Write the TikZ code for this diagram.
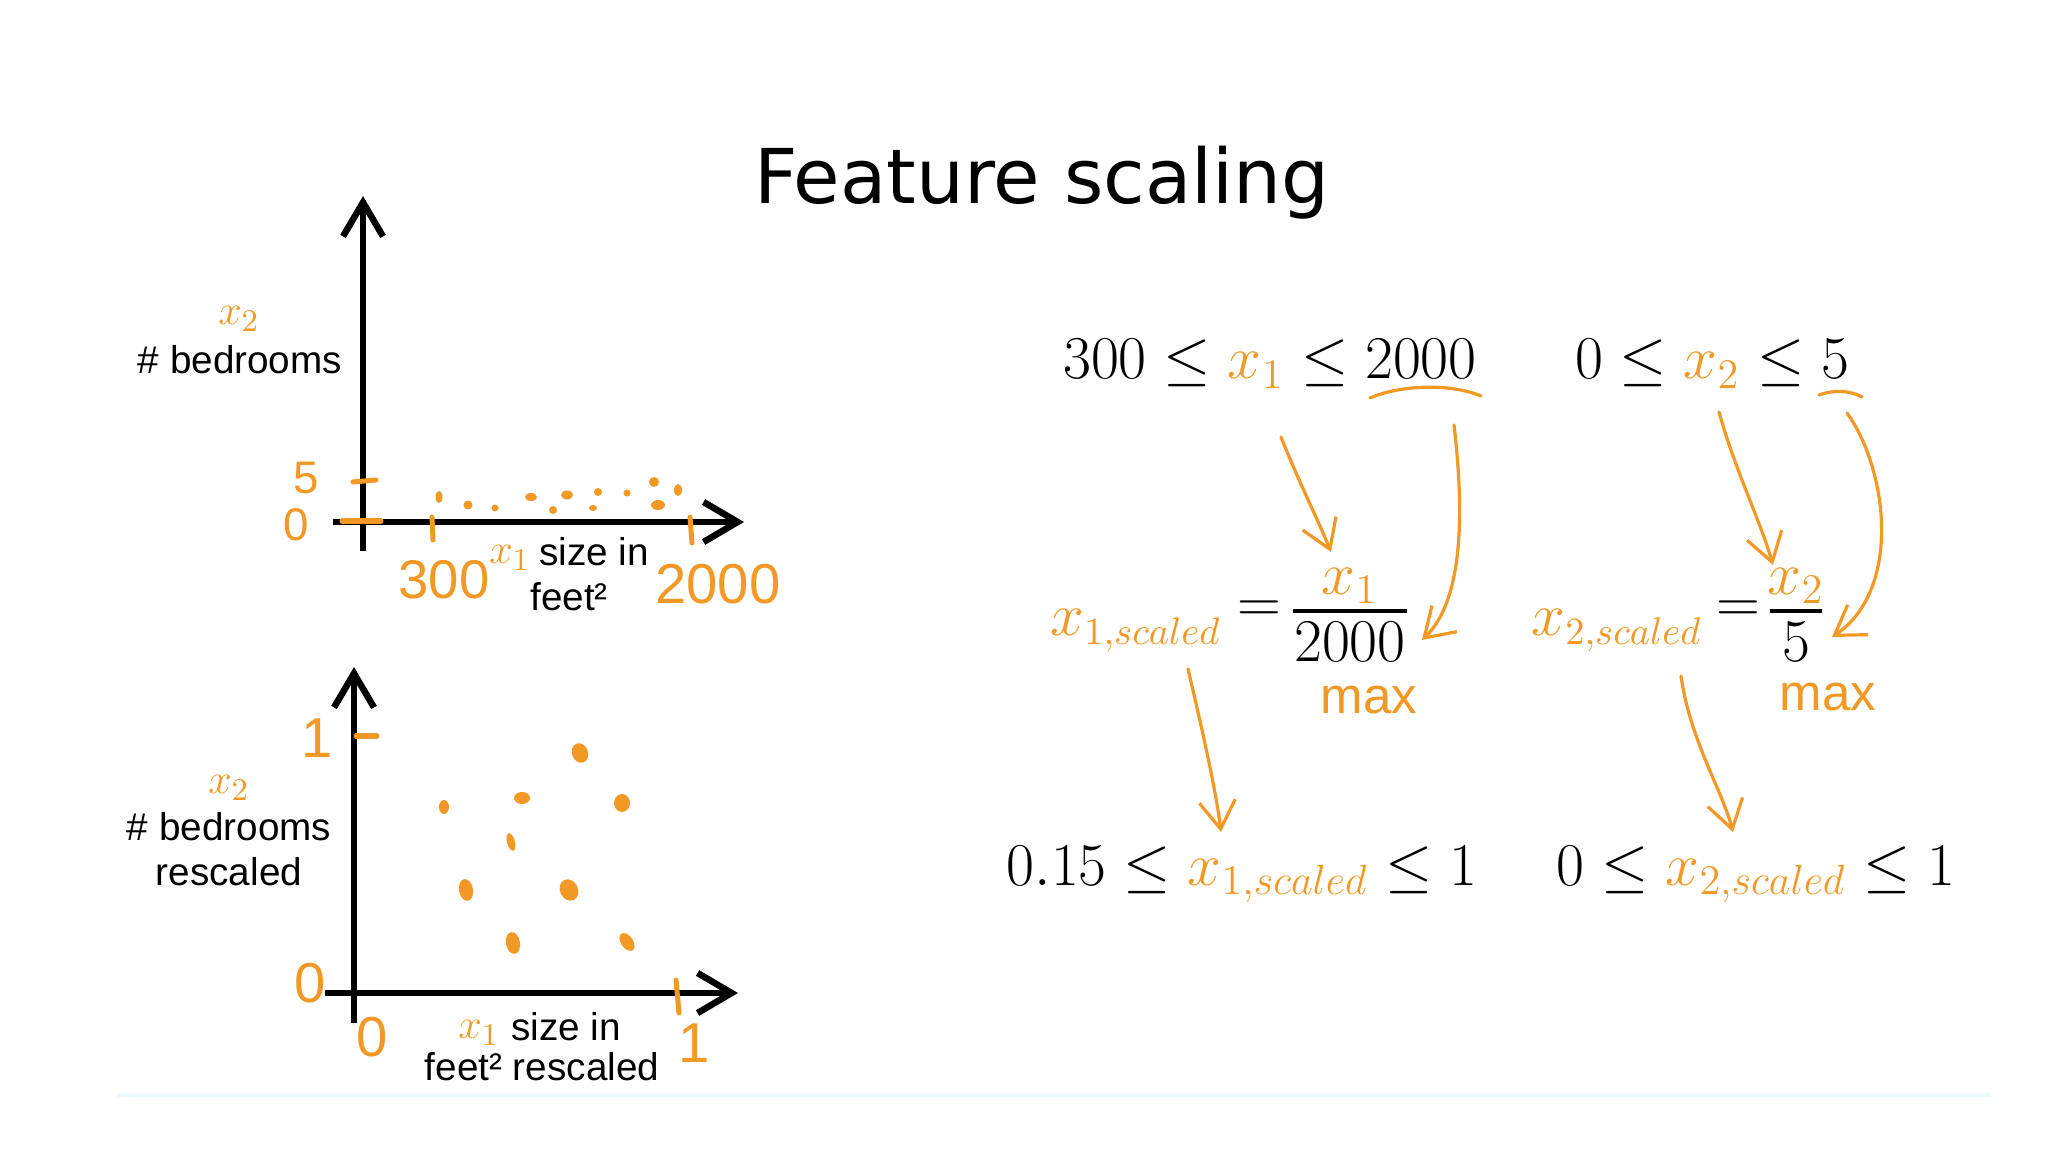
\documentclass[tikz,border=0pt]{standalone}
\usepackage{fontspec}
\usepackage{amsmath}
\setmainfont{Liberation Sans}
\newfontfamily\titlefont{DejaVu Sans}
\usetikzlibrary{arrows.meta}
\definecolor{orng}{RGB}{242,153,37}
\definecolor{faint}{RGB}{236,248,251}
\tikzset{
  axisline/.style={line width=0.065cm, -{Straight Barb[length=0.34cm,width=0.4cm]}},
  pen/.style={orng, line width=0.032cm, line cap=round},
  penarrow/.style={pen, -{Straight Barb[length=0.28cm,width=0.36cm]}},
  tickmark/.style={orng, line width=0.05cm, line cap=round},
  fracbar/.style={line width=0.035cm},
  lbl/.style={font=\fontsize{11}{13}\selectfont, inner sep=0},
  hand/.style={orng, font=\fontsize{16}{16}\selectfont, inner sep=0},
  handmax/.style={orng, font=\fontsize{14.5}{15}\selectfont, inner sep=0},
  handsm/.style={orng, font=\fontsize{13}{13}\selectfont, inner sep=0},
  mvar/.style={orng, font=\fontsize{13}{13}\selectfont, inner sep=0},
  mth/.style={font=\fontsize{17}{20}\selectfont, inner sep=0},
  mths/.style={font=\fontsize{16.3}{20}\selectfont, inner sep=0},
  dotmark/.style={fill=orng, draw=none},
}
\begin{document}
\begin{tikzpicture}[x=0.01cm,y=-0.01cm]
\useasboundingbox (0,0) rectangle (2048,1152);
\fill[white] (0,0) rectangle (2048,1152);

% title
\node[font=\titlefont\fontsize{21.5}{24}\selectfont, inner sep=0] (title) at (1042,183) {Feature scaling};

% faint bottom line
\coordinate (fl) at (117,1095);
\coordinate (fr) at (1991,1095);
\draw[faint, line width=0.04cm] (fl) -- (fr);

% ---------- top graph ----------
\coordinate (ybot1) at (363,551);
\coordinate (ytop1) at (363,196);
\coordinate (xl1) at (333,522);
\coordinate (xr1) at (744,522);
\draw[axisline] (ybot1) -- (ytop1);
\draw[axisline] (xl1) -- (xr1);

\coordinate (t5a) at (353,482); \coordinate (t5b) at (376,480);
\coordinate (t0a) at (342,521); \coordinate (t0b) at (381,521);
\coordinate (t3a) at (432,517); \coordinate (t3b) at (433,540);
\coordinate (t2a) at (690,517); \coordinate (t2b) at (692,543);
\draw[tickmark] (t5a) -- (t5b);
\draw[tickmark] (t0a) -- (t0b);
\draw[tickmark] (t3a) -- (t3b);
\draw[tickmark] (t2a) -- (t2b);

\node[handsm] (l5) at (306,478) {5};
\node[handsm] (l0) at (296,525) {0};
\node[hand, font=\fontsize{15.5}{16}\selectfont] (l300) at (444,580) {300};
\node[hand] (l2000) at (718,584) {2000};
\node[mvar] (vx2a) at (239,319) {$x_2$};
\node[lbl] (bed1) at (240,360) {\# bedrooms};
\node[mvar] (vx1a) at (510,558) {$x_1$};
\node[lbl] (size1) at (594,552) {size in};
\node[lbl] (feet1) at (569,597) {feet²};

% top scatter dots
\fill[dotmark] (439,497) ellipse [x radius=3.5, y radius=6];
\fill[dotmark] (468,505) circle [radius=4.5];
\fill[dotmark] (495,508) circle [radius=3.5];
\fill[dotmark] (531,497) ellipse [x radius=6, y radius=4];
\fill[dotmark] (553,510) circle [radius=4];
\fill[dotmark] (567,495) ellipse [x radius=6, y radius=4.5];
\fill[dotmark] (593,508) ellipse [x radius=4, y radius=3];
\fill[dotmark] (598,492) circle [radius=4];
\fill[dotmark] (627,493) circle [radius=3.5];
\fill[dotmark] (654,482) circle [radius=5];
\fill[dotmark] (658,505) ellipse [x radius=7, y radius=5];
\fill[dotmark] (678,490) ellipse [x radius=4, y radius=6];

% ---------- bottom graph ----------
\coordinate (ybot2) at (354,1023);
\coordinate (ytop2) at (354,667);
\coordinate (xl2) at (325,993);
\coordinate (xr2) at (738,993);
\draw[axisline] (ybot2) -- (ytop2);
\draw[axisline] (xl2) -- (xr2);

\coordinate (u1a) at (356,736); \coordinate (u1b) at (377,736);
\coordinate (v1a) at (676,980); \coordinate (v1b) at (679,1013);
\draw[tickmark] (u1a) -- (u1b);
\draw[tickmark] (v1a) -- (v1b);

\node[hand] (m1) at (317,738) {1};
\node[hand] (m0) at (310,983) {0};
\node[hand] (n0) at (372,1037) {0};
\node[hand] (n1) at (694,1043) {1};
\node[mvar] (vx2b) at (229,788) {$x_2$};
\node[lbl] (bed2) at (229,827) {\# bedrooms};
\node[lbl] (resc2) at (229,872) {rescaled};
\node[mvar] (vx1b) at (479,1033) {$x_1$};
\node[lbl] (size2) at (566,1027) {size in};
\node[lbl] (feet2) at (542,1067) {feet² rescaled};

% bottom scatter dots
\fill[dotmark] (444,807) ellipse [x radius=5, y radius=7];
\fill[dotmark] (522,798) ellipse [x radius=8, y radius=6];
\fill[dotmark, rotate around={20:(580,753)}] (580,753) ellipse [x radius=8, y radius=10];
\fill[dotmark] (622,803) ellipse [x radius=8, y radius=9];
\fill[dotmark, rotate around={15:(511,842)}] (511,842) ellipse [x radius=4, y radius=9];
\fill[dotmark, rotate around={10:(466,890)}] (466,890) ellipse [x radius=7, y radius=11];
\fill[dotmark, rotate around={25:(569,890)}] (569,890) ellipse [x radius=9, y radius=11];
\fill[dotmark, rotate around={10:(513,943)}] (513,943) ellipse [x radius=7, y radius=11];
\fill[dotmark, rotate around={35:(627,942)}] (627,942) ellipse [x radius=6, y radius=10];

% ---------- right side formulas ----------
\node[mth, anchor=base] (r1) at (1270,379) {$300 \le {\color{orng}x_1} \le 2000$};
\node[mth, anchor=base] (r2) at (1712,379) {$0 \le {\color{orng}x_2} \le 5$};

% fraction 1
\node[mths, anchor=base east, orng] (xs1) at (1222,635) {$x_{1,scaled}$};
\node[mth] (eq1) at (1259,612) {$=$};
\coordinate (b1l) at (1293,611); \coordinate (b1r) at (1407,611);
\draw[fracbar] (b1l) -- (b1r);
\node[mth, anchor=base, orng] (num1) at (1350,594) {$x_1$};
\node[mth, anchor=base] (den1) at (1350,661) {$2000$};

% fraction 2
\node[mths, anchor=base east, orng] (xs2) at (1703,635) {$x_{2,scaled}$};
\node[mth] (eq2) at (1738,612) {$=$};
\coordinate (b2l) at (1770,611); \coordinate (b2r) at (1822,611);
\draw[fracbar] (b2l) -- (b2r);
\node[mth, anchor=base, orng] (num2) at (1796,594) {$x_2$};
\node[mth, anchor=base] (den2) at (1796,661) {$5$};

\node[handmax] (max1) at (1369,700) {max};
\node[handmax] (max2) at (1828,697) {max};

\node[mth, anchor=base] (r5) at (1242,885) {$0.15 \le {\color{orng}x_{1,scaled}} \le 1$};
\node[mth, anchor=base] (r6) at (1756,885) {$0 \le {\color{orng}x_{2,scaled}} \le 1$};

% underlines
\coordinate (ua1) at (1370,398); \coordinate (ub1) at (1481,396);
\draw[pen] (ua1) .. controls (1400,385) and (1450,383) .. (ub1);
\coordinate (ua2) at (1819,395); \coordinate (ub2) at (1862,397);
\draw[pen] (ua2) .. controls (1832,390) and (1850,390) .. (ub2);

% arrows
\coordinate (a1s) at (1281,437); \coordinate (a1e) at (1331,552);
\draw[penarrow] (a1s) .. controls (1298,480) and (1318,520) .. (a1e);
\coordinate (a2s) at (1454,425); \coordinate (a2e) at (1422,640);
\draw[penarrow] (a2s) .. controls (1464,510) and (1464,600) .. (a2e);
\coordinate (a3s) at (1719,412); \coordinate (a3e) at (1773,565);
\draw[penarrow] (a3s) .. controls (1735,470) and (1760,520) .. (a3e);
\coordinate (a4s) at (1847,413); \coordinate (a4e) at (1832,637);
\draw[penarrow] (a4s) .. controls (1888,470) and (1902,590) .. (a4e);
\coordinate (a5s) at (1188,669); \coordinate (a5e) at (1221,832);
\draw[penarrow] (a5s) .. controls (1200,720) and (1216,790) .. (a5e);
\coordinate (a6s) at (1681,676); \coordinate (a6e) at (1733,832);
\draw[penarrow] (a6s) .. controls (1690,740) and (1722,790) .. (a6e);
\end{tikzpicture}
\end{document}
